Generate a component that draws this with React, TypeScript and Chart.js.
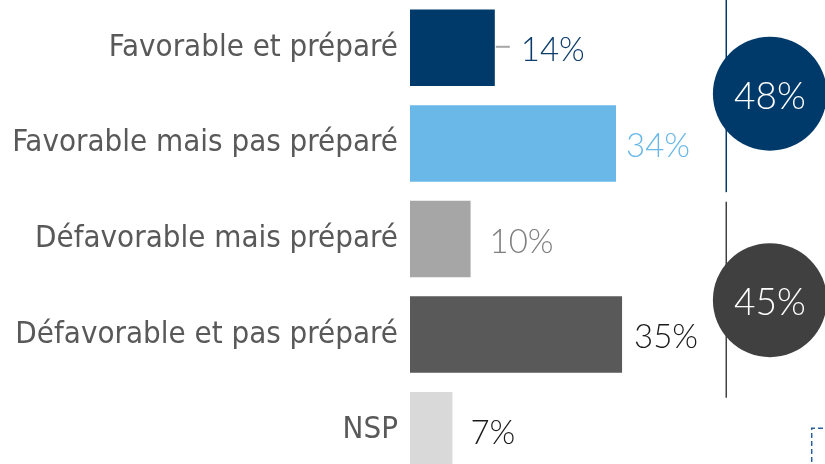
import React, { useEffect, useRef } from "react";
import { Chart, registerables } from "chart.js";

Chart.register(...registerables);

const categories = [
  "Favorable et préparé",
  "Favorable mais pas préparé",
  "Défavorable mais préparé",
  "Défavorable et pas préparé",
  "NSP",
];
const values = [14, 34, 10, 35, 7];
const barColors = ["#003a6b", "#69b8e8", "#a6a6a6", "#595959", "#d9d9d9"];
const valueLabelColors = ["#0b3c6c", "#69b8e8", "#7f7f7f", "#1a1a1a", "#1a1a1a"];
const groupTotals = [48, 45];
const groupColors = ["#003a6b", "#404040"];

// style constants (label gaps from bar ends, px)
const labelGaps = [26, 10, 19, 12, 18];

const overlayPlugin = {
  id: "overlay",
  afterDatasetsDraw(chart: any) {
    const ctx = chart.ctx;
    const xs = chart.scales.x;
    const ys = chart.scales.y;
    const meta = chart.getDatasetMeta(0);
    ctx.save();
    // value labels
    meta.data.forEach((bar: any, i: number) => {
      const xEnd = bar.x;
      const y = bar.y;
      if (i === 0) {
        ctx.strokeStyle = "#a6a6a6";
        ctx.lineWidth = 2;
        ctx.beginPath();
        ctx.moveTo(xEnd + 1, y - 1);
        ctx.lineTo(xEnd + 15, y - 1);
        ctx.stroke();
      }
      ctx.fillStyle = valueLabelColors[i];
      ctx.font = "300 33px Lato, 'Open Sans', sans-serif";
      ctx.textAlign = "left";
      ctx.textBaseline = "middle";
      ctx.fillText(values[i] + "%", xEnd + labelGaps[i], y + 3);
    });

    // group brackets and circles
    const lineX = xs.getPixelForValue(52.2);
    const cx = xs.getPixelForValue(59.4);
    const r = 57;
    const groups = [
      { from: -0.5, to: 1.51, c: 0.48 },
      { from: 1.61, to: 3.66, c: 2.64 },
    ];
    groups.forEach((g, i) => {
      ctx.strokeStyle = groupColors[i];
      ctx.lineWidth = 1.5;
      ctx.beginPath();
      ctx.moveTo(lineX, ys.getPixelForValue(g.from));
      ctx.lineTo(lineX, ys.getPixelForValue(g.to));
      ctx.stroke();
      const cy = ys.getPixelForValue(g.c);
      ctx.fillStyle = groupColors[i];
      ctx.beginPath();
      ctx.arc(cx, cy, r, 0, Math.PI * 2);
      ctx.fill();
      ctx.fillStyle = "#ffffff";
      ctx.font = "300 37px Lato, 'Open Sans', sans-serif";
      ctx.textAlign = "center";
      ctx.textBaseline = "middle";
      ctx.fillText(groupTotals[i] + "%", cx, cy + 3);
    });

    // small dashed frame corner at bottom right
    const dx = xs.getPixelForValue(66.3);
    const dy = ys.getPixelForValue(3.98);
    ctx.strokeStyle = "#2a5f9a";
    ctx.lineWidth = 1.5;
    ctx.setLineDash([5, 3]);
    ctx.beginPath();
    ctx.moveTo(dx, chart.height);
    ctx.lineTo(dx, dy);
    ctx.lineTo(chart.width, dy);
    ctx.stroke();
    ctx.setLineDash([]);
    ctx.restore();
  },
};

export default function App() {
  const ref = useRef<HTMLCanvasElement>(null);
  useEffect(() => {
    if (!ref.current) return;
    const chart = new Chart(ref.current, {
      type: "bar",
      data: {
        labels: categories,
        datasets: [
          {
            data: values,
            backgroundColor: barColors,
            borderWidth: 0,
            barPercentage: 0.8,
            categoryPercentage: 1,
          },
        ],
      },
      options: {
        indexAxis: "y",
        responsive: false,
        animation: false,
        layout: { padding: { left: 0, right: 3, top: 0, bottom: 0 } },
        plugins: {
          legend: { display: false },
          tooltip: { enabled: false },
        },
        scales: {
          x: { display: false, min: 0, max: 68 },
          y: {
            afterFit: (s: any) => {
              s.width = 410;
              s.paddingTop = 0;
              s.paddingBottom = 0;
            },
            grid: { display: false, drawTicks: false },
            border: { display: false },
            ticks: {
              padding: 12,
              color: "#595959",
              font: { family: "'DejaVu Sans Condensed', 'DejaVu Sans', sans-serif", size: 31 },
            },
          },
        },
      },
      plugins: [overlayPlugin],
    });
    return () => chart.destroy();
  }, []);
  return (
    <div
      style={{
        position: "fixed",
        left: 0,
        top: 0,
        width: 825,
        height: 464,
        overflow: "hidden",
        background: "#ffffff",
      }}
    >
      <canvas ref={ref} width={825} height={478} style={{ display: "block" }} />
    </div>
  );
}
